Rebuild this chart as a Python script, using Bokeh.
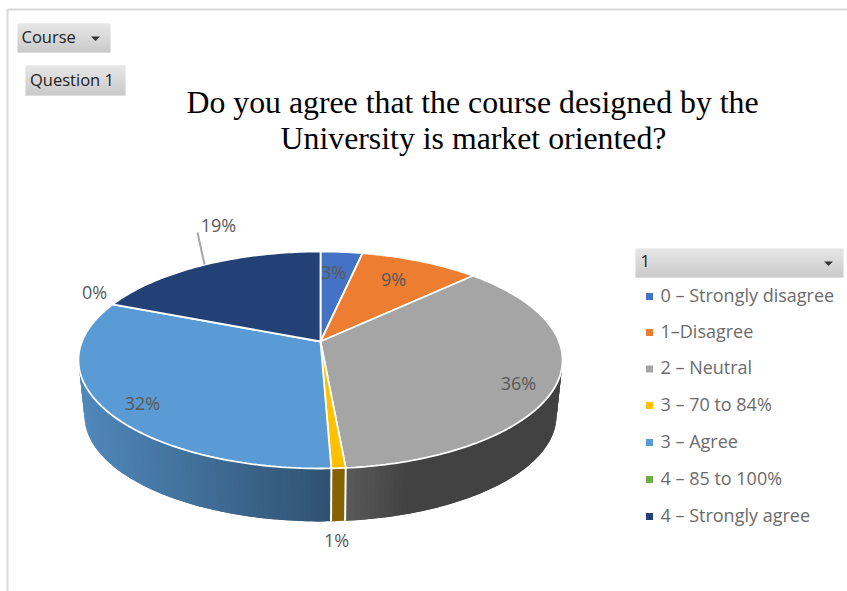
import math
from bokeh.plotting import figure
from bokeh.models import Range1d
from bokeh.core.properties import value
from bokeh.embed import file_html
from bokeh.resources import INLINE

# ---------- data ----------
categories = ["0 – Strongly disagree", "1–Disagree", "2 – Neutral", "3 – 70 to 84%",
              "3 – Agree", "4 – 85 to 100%", "4 – Strongly agree"]
shares = [3.3, 9.4, 35.9, 0.8, 31.7, 0.0, 18.9]
colors = ["#4472c4", "#ed7d31", "#a5a5a5", "#ffc000", "#5b9bd5", "#70ad47", "#234175"]
title_lines = ["Do you agree that the course designed by the", "University is market oriented?"]
filter_labels = ["Course", "Question 1", "1"]

# ---------- layout ----------
W, H = 847, 591
p = figure(width=W, height=H, x_range=Range1d(0, W), y_range=Range1d(H, 0),
           x_axis_location=None, y_axis_location=None, toolbar_location=None,
           output_backend="svg", min_border=0, outline_line_color=None,
           background_fill_color="white", border_fill_color="white")
p.grid.visible = False

CX, CY0 = 320.0, 341.0
K, A, C = 0.1705, -47.2, 238.5   # perspective of the disc
SIDE_S, SIDE_DY, ELL_CY = 0.975, 55.6, 360.0


def top_pt(theta, r=1.0):
    u, v = r * math.sin(theta), r * math.cos(theta)
    d = 1 + K * v
    return CX + C * u / d, (A * v + CY0) / d


def low_pt(theta):
    x, y = top_pt(theta)
    return CX + SIDE_S * (x - CX), ELL_CY + SIDE_DY + SIDE_S * (y - ELL_CY)


def hexmix(col, f):
    r, g, b = int(col[1:3], 16), int(col[3:5], 16), int(col[5:7], 16)
    return "#%02x%02x%02x" % (int(r * f), int(g * f), int(b * f))


def side_factor(name_idx, x):
    if name_idx == 4:
        return 0.88 + (min(max(x, 80), 331) - 80) / 251 * (0.53 - 0.88)
    if name_idx == 3:
        return 0.52
    return max(0.40, 0.55 - max(x - 345, 0) / 65 * 0.15)


# cumulative slice bounds (clockwise from the top)
bounds = [0.0]
for s in shares:
    bounds.append(bounds[-1] + s)
total = bounds[-1]
ang = [b / total * 2 * math.pi for b in bounds]

# border of the sheet
p.line([7, 7, W], [H, 9, 9], line_color="#d9d9d9", line_width=2)

# side wall: overlapping strips, painted in order, so that no seams show
xs, ys, fc = [], [], []
TH_MIN, TH_MAX = math.radians(60), math.radians(300)
for i in range(len(shares)):
    a0, a1 = max(ang[i], TH_MIN), min(ang[i + 1], TH_MAX)
    if a1 <= a0:
        continue
    n = max(2, int((a1 - a0) / math.radians(1.0)))
    for j in range(n):
        t0 = a0 + (a1 - a0) * j / n
        t1 = min(a1, a0 + (a1 - a0) * (j + 2) / n)
        tm = a0 + (a1 - a0) * (j + 0.5) / n
        x0, y0 = top_pt(t0); x1, y1 = top_pt(t1)
        xm, ym = top_pt((t0 + t1) / 2); xn, yn = low_pt((t0 + t1) / 2)
        x2, y2 = low_pt(t1); x3, y3 = low_pt(t0)
        xs.append([x0, xm, x1, x2, xn, x3]); ys.append([y0, ym, y1, y2, yn, y3])
        fc.append(hexmix(colors[i], side_factor(i, top_pt(tm)[0])))
p.patches(xs, ys, fill_color=fc, line_color=None)

# side separators
for i in range(1, len(shares)):
    if TH_MIN < ang[i] < TH_MAX and shares[i] > 0 and shares[i - 1] > 0:
        x0, y0 = top_pt(ang[i]); x1, y1 = low_pt(ang[i])
        p.line([x0, x1], [y0, y1], line_color="white", line_width=2)

# top face
xs, ys, fc = [], [], []
for i in range(len(shares)):
    if shares[i] <= 0:
        continue
    n = max(2, int((ang[i + 1] - ang[i]) / math.radians(1)))
    pts = [top_pt(ang[i] + (ang[i + 1] - ang[i]) * j / n) for j in range(n + 1)]
    xs.append([CX] + [q[0] for q in pts]); ys.append([CY0] + [q[1] for q in pts])
    fc.append(colors[i])
p.patches(xs, ys, fill_color=fc, line_color="white", line_width=1.8)

# data labels
label_xy = [(333, 271.5), (393, 278.5), (518, 382.5), (336, 539.5), (142, 402.5), (94, 291.5), (218, 224.5)]
p.text([q[0] for q in label_xy], [q[1] for q in label_xy],
       text=[f"{round(s)}%" for s in shares], text_align="center", text_baseline="middle",
       text_font=value("Open Sans"), text_font_size="18px", text_color="#595959")
p.line([204, 197], [264, 232], line_color="#a6a6a6", line_width=2)

# title
p.text([472, 473], [102, 138], text=title_lines,
       text_align="center", text_baseline="middle",
       text_font=value("Liberation Serif"), text_font_size="31.8px", text_color="#000000")

# filter buttons
btn_top, btn_bot = (0xdf, 0xdf, 0xdf), (0xb9, 0xb9, 0xb9)
boxes = [(17, 110, 23, 52), (25, 125, 65, 95), (635, 843, 248, 277)]
ql, qr, qt, qb, qc = [], [], [], [], []
for (l, r, t, b) in boxes:
    for y in range(t, b):
        f = (y - t) / (b - t - 1)
        qc.append("#%02x%02x%02x" % tuple(int(a + (c - a) * f) for a, c in zip(btn_top, btn_bot)))
        ql.append(l); qr.append(r); qt.append(y); qb.append(y + 1)
p.quad(left=ql, right=qr, top=qt, bottom=qb, fill_color=qc, line_color=None)
p.text([21, 29.5, 640], [35.5, 78.5, 260], text=filter_labels, text_baseline="middle",
       text_font=value("Open Sans"), text_font_size="16.5px", text_color="#222222")
p.patches([[90.5, 99.5, 95], [823.5, 832.5, 828]], [[36, 36, 40.5], [261, 261, 265.5]],
          fill_color="#333333", line_color=None)

# legend
leg_y = [296, 332, 368.5, 405, 442, 479, 516]
p.scatter([649] * 7, leg_y, marker="square", size=7, fill_color=colors, line_color=None)
p.text([660] * 7, [y - 2 for y in leg_y], text=categories, text_baseline="middle",
       text_font=value("Open Sans"), text_font_size="18px", text_color="#6b6b6b")

open("out.html", "w").write(file_html(p, INLINE))
